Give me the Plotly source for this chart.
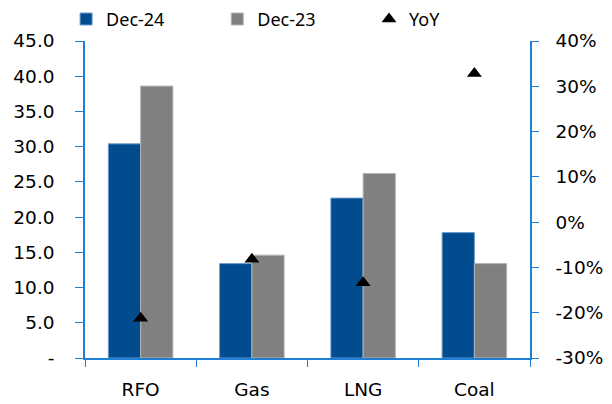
import plotly.graph_objects as go

categories = ["RFO", "Gas", "LNG", "Coal"]
dec24 = [30.4, 13.4, 22.7, 17.8]
dec23 = [38.6, 14.6, 26.2, 13.4]
yoy = [-21.2, -8.2, -13.4, 32.8]

left_ticks = [0, 5, 10, 15, 20, 25, 30, 35, 40, 45]
left_text = ["-" if v == 0 else f"{v:.1f}" for v in left_ticks]
right_ticks = [-30, -20, -10, 0, 10, 20, 30, 40]
right_text = [f"{v}%" for v in right_ticks]

AXIS = "#1F7FD4"
TICK_FONT = dict(family="DejaVu Sans", size=18.5, color="black")

fig = go.Figure()
fig.add_trace(go.Bar(
    x=categories, y=dec24, name="Dec-24", legend="legend",
    marker=dict(color="#004C8F", line=dict(color="#6C9BCB", width=1)),
))
fig.add_trace(go.Bar(
    x=categories, y=dec23, name="Dec-23", legend="legend2",
    marker=dict(color="#808080", line=dict(color="#B4B4B4", width=1)),
))
fig.add_trace(go.Scatter(
    x=categories, y=yoy, name="YoY", yaxis="y2", mode="markers",
    legend="legend3",
    marker=dict(symbol="triangle-up", size=13, color="black"),
))


def legend_at(x):
    # one single-entry legend per series, laid out in a row above the plot
    return dict(
        orientation="h", xref="container", yref="container",
        x=x, xanchor="left", y=0.998, yanchor="top",
        font=dict(family="Noto Sans", size=18), itemwidth=30,
        bgcolor="rgba(0,0,0,0)",
    )


fig.update_layout(
    width=612, height=404,
    margin=dict(l=85, r=82, t=41, b=46, autoexpand=False),
    paper_bgcolor="white", plot_bgcolor="white",
    font=dict(family="Noto Sans", size=18, color="black"),
    barmode="group", bargap=0.42, bargroupgap=0,
    showlegend=True,
    legend=legend_at(0.108),
    legend2=legend_at(0.355),
    legend3=legend_at(0.603),
    xaxis=dict(
        showline=True, linecolor=AXIS, linewidth=1.5,
        ticks="outside", tickcolor=AXIS, ticklen=7, tickson="boundaries",
        showgrid=False, tickfont=TICK_FONT, ticklabelstandoff=14,
    ),
    yaxis=dict(
        range=[0, 45], tickvals=left_ticks, ticktext=left_text,
        showline=True, linecolor=AXIS, linewidth=1.5,
        ticks="outside", tickcolor=AXIS, ticklen=8,
        showgrid=False, zeroline=False, tickfont=TICK_FONT,
        ticklabelstandoff=17,
    ),
    yaxis2=dict(
        range=[-30, 40], tickvals=right_ticks, ticktext=right_text,
        overlaying="y", side="right",
        showline=True, linecolor=AXIS, linewidth=1.5,
        ticks="outside", tickcolor=AXIS, ticklen=7,
        showgrid=False, zeroline=False, tickfont=TICK_FONT,
        ticklabelstandoff=13,
    ),
)

fig.write_html("out.html")
